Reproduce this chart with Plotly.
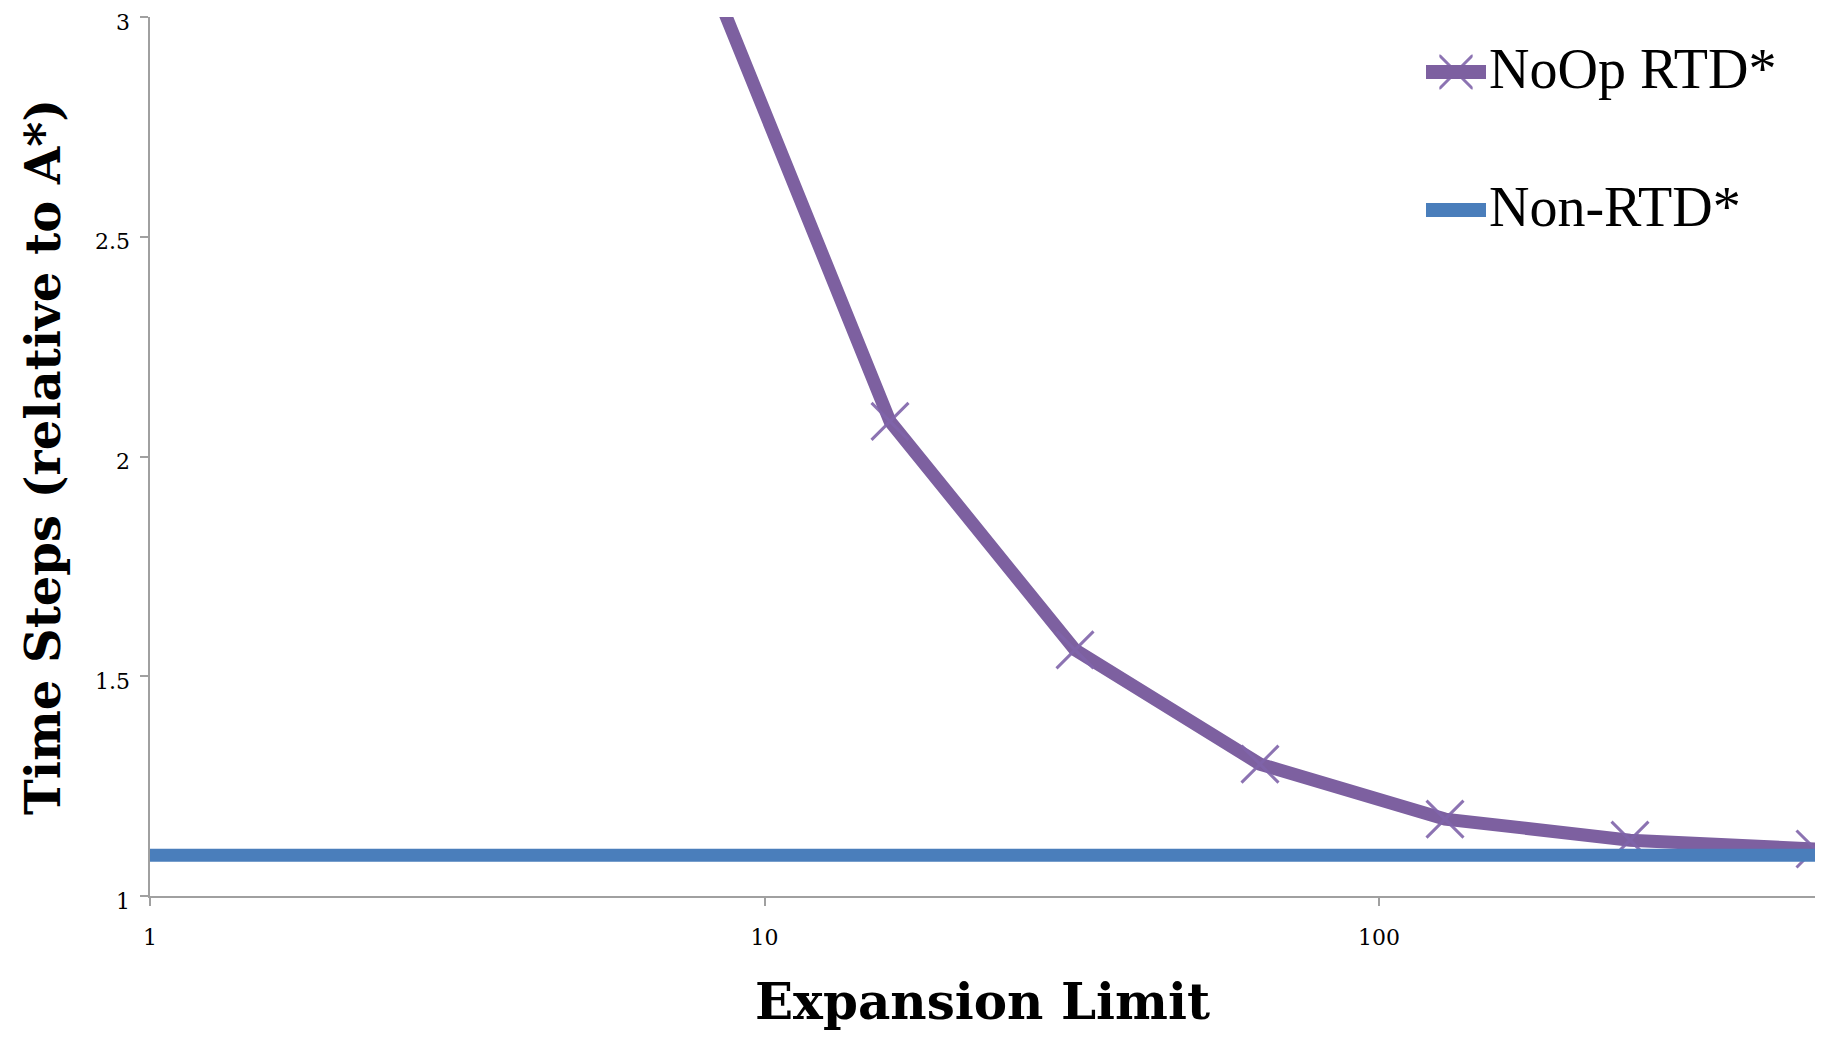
import plotly.graph_objects as go

# Data
x_noop = [8, 16, 32, 64, 128, 256, 512]
y_noop = [3.12, 2.08, 1.56, 1.30, 1.175, 1.127, 1.107]

x_non = [1, 2, 4, 8, 16, 32, 64, 128, 256, 512]
y_non = [1.093, 1.093, 1.093, 1.093, 1.093, 1.093, 1.093, 1.093, 1.093, 1.093]

x_tickvals = [1, 10, 100]
x_ticktext = ["1", "10", "100"]
y_tickvals = [1, 1.5, 2, 2.5, 3]
y_ticktext = ["1", "1.5", "2", "2.5", "3"]

series_names = ["NoOp RTD*", "Non-RTD*"]
purple = "#7D60A0"
blue = "#4A7EBB"
marker_col = "rgba(128,100,170,0.9)"

W, H = 1836, 1038
OFF = 8  # page body offset
# target plot box in screen pixels: x 150..1815, y 17..896
ML = 150 - OFF
MT = 17 - OFF
MB = H + OFF - 896
MR = W + OFF - 1815

fig = go.Figure()
fig.add_trace(go.Scatter(
    x=x_noop, y=y_noop, mode="lines+markers", name=series_names[0],
    line=dict(color=purple, width=13),
    marker=dict(symbol="x-thin", size=37, color=marker_col,
                line=dict(width=3, color=marker_col)),
    showlegend=False,
))
fig.add_trace(go.Scatter(
    x=x_non, y=y_non, mode="lines", name=series_names[1],
    line=dict(color=blue, width=13),
    showlegend=False,
))

axis_color = "#A0A0A0"
tick_font = dict(family="DejaVu Serif", size=22, color="black")

fig.update_xaxes(
    type="log", range=[0, 2.70927],
    tickvals=x_tickvals, ticktext=x_ticktext,
    showgrid=False, zeroline=False, automargin=False,
    showline=True, linecolor=axis_color, linewidth=1.5,
    ticks="outside", ticklen=8, tickwidth=1.5, tickcolor=axis_color,
    tickfont=tick_font, ticklabelstandoff=13,
)
fig.update_yaxes(
    range=[1, 3],
    tickvals=y_tickvals,
    showticklabels=False,
    showgrid=False, zeroline=False, automargin=False,
    showline=True, linecolor=axis_color, linewidth=1.5,
    ticks="outside", ticklen=8, tickwidth=1.5, tickcolor=axis_color,
)

plot_w = W - ML - MR
plot_h = H - MT - MB

def px_x(p):
    # screen x -> paper
    return (p - OFF - ML) / plot_w

def px_y(p):
    # screen y -> paper
    return (H - MB - (p - OFF)) / plot_h

annotations = [
    dict(text="<b>Expansion Limit</b>", x=px_x(983), y=px_y(1001), xref="paper", yref="paper",
         xanchor="center", yanchor="middle", showarrow=False,
         font=dict(family="DejaVu Serif", size=50, color="black")),
    dict(text="<b>Time Steps (relative to A*)</b>", x=px_x(43), y=px_y(457), xref="paper", yref="paper",
         xanchor="center", yanchor="middle", showarrow=False, textangle=-90,
         font=dict(family="DejaVu Serif", size=48, color="black")),
]

# y tick labels (placed slightly below each tick, like the old-style figures of the original)
for val, lab in zip(y_tickvals, y_ticktext):
    annotations.append(dict(text=lab, x=0, y=val, xref="paper", yref="y",
                            xanchor="right", yanchor="middle", xshift=-18, yshift=-5,
                            showarrow=False, font=dict(family="DejaVu Serif", size=22, color="black")))

# Custom legend
legend_font = dict(family="Liberation Serif", size=56, color="black")
legend_rows = [(72, purple), (210, blue)]
shapes = []
for (ly, col), name in zip(legend_rows, series_names):
    shapes.append(dict(type="line", xref="paper", yref="paper",
                       x0=px_x(1426), x1=px_x(1486), y0=px_y(ly), y1=px_y(ly),
                       line=dict(color=col, width=14)))
    annotations.append(dict(text=name, x=px_x(1487), y=px_y(ly - 3), xref="paper", yref="paper",
                            xanchor="left", yanchor="middle", showarrow=False, font=legend_font))
# marker glyph on the first legend swatch
fig.add_trace(go.Scatter(
    x=[0.5], y=[0.5], xaxis="x2", yaxis="y2", mode="markers",
    marker=dict(symbol="x-thin", size=36, color=marker_col,
                line=dict(width=3, color=marker_col)),
    showlegend=False, hoverinfo="skip",
))
fig.update_layout(
    xaxis2=dict(domain=[px_x(1456) - 0.01, px_x(1456) + 0.01], range=[0, 1], visible=False, anchor="y2"),
    yaxis2=dict(domain=[px_y(72) - 0.02, px_y(72) + 0.02], range=[0, 1], visible=False, anchor="x2"),
)

fig.update_layout(
    width=W, height=H,
    margin=dict(l=ML, r=MR, t=MT, b=MB),
    paper_bgcolor="white", plot_bgcolor="white",
    showlegend=False,
    annotations=annotations, shapes=shapes,
)

fig.write_html("out.html")
